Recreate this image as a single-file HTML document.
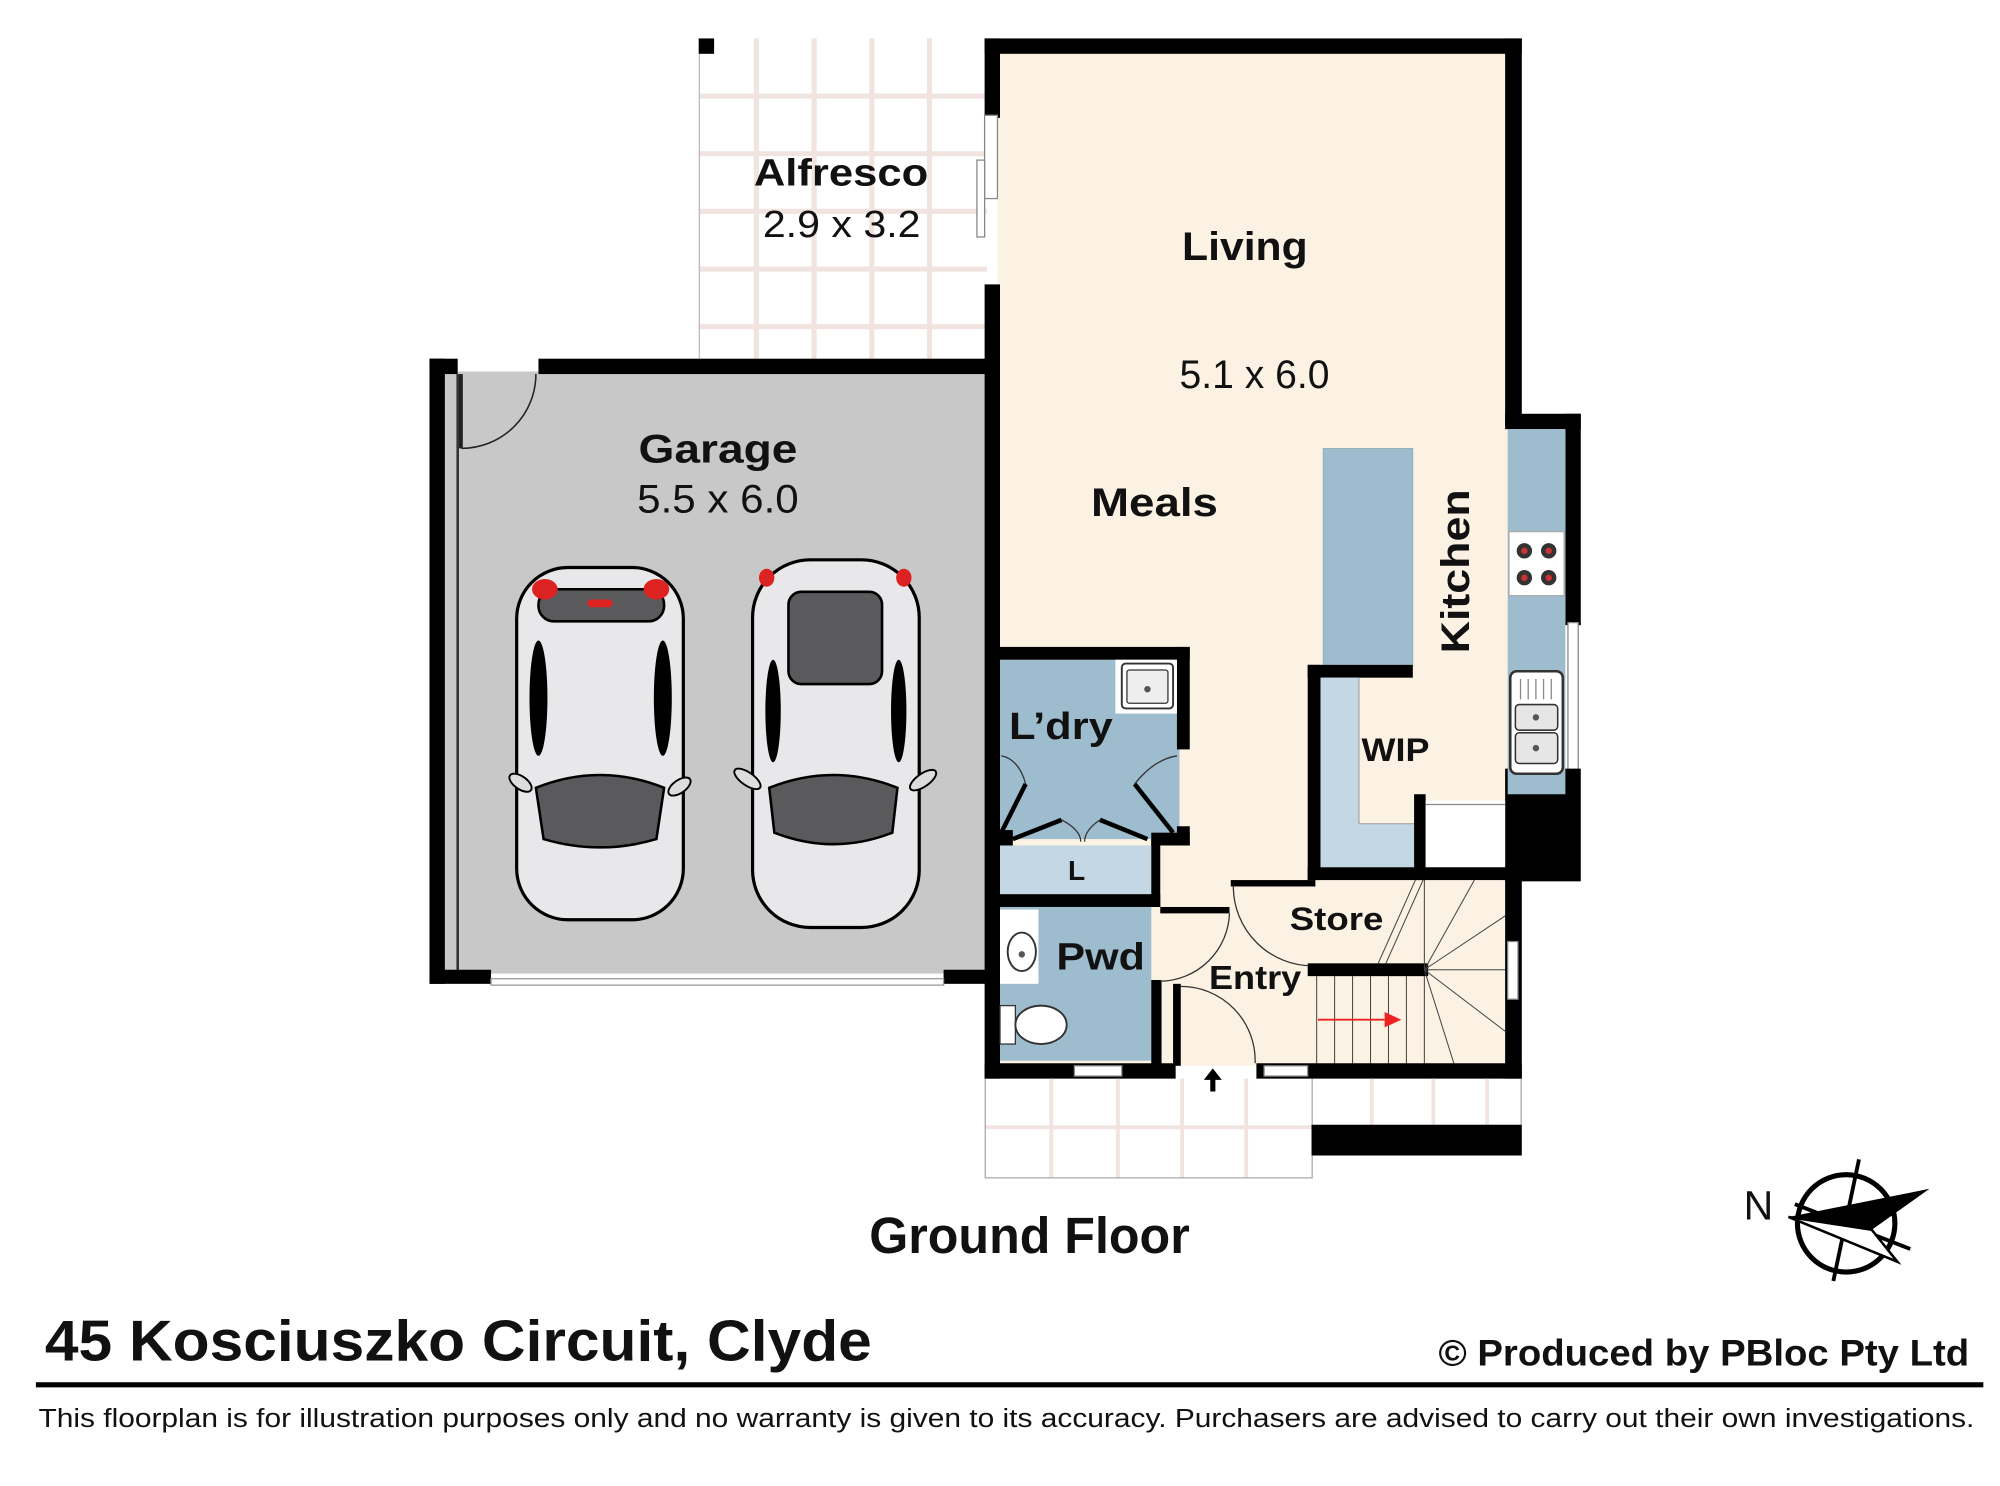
<!DOCTYPE html>
<html><head><meta charset="utf-8"><style>
html,body{margin:0;padding:0;background:#fff;}
svg{display:block;}
text{font-family:"Liberation Sans",sans-serif;fill:#111;}
.b{font-weight:bold;}
</style></head><body>
<svg width="2000" height="1486" viewBox="0 0 1560 1160" preserveAspectRatio="none" xmlns="http://www.w3.org/2000/svg">
<rect width="1560" height="1160" fill="#fff"/>
<rect x="545" y="30" width="225" height="250" fill="#fff"/>
<g stroke="#f1e4e0" stroke-width="4">
<line x1="590" y1="30" x2="590" y2="280"/><line x1="635" y1="30" x2="635" y2="280"/><line x1="680" y1="30" x2="680" y2="280"/><line x1="725" y1="30" x2="725" y2="280"/>
<line x1="545" y1="75" x2="770" y2="75"/><line x1="545" y1="120" x2="770" y2="120"/><line x1="545" y1="165" x2="770" y2="165"/><line x1="545" y1="210" x2="770" y2="210"/><line x1="545" y1="255" x2="770" y2="255"/>
</g>
<line x1="545.5" y1="30" x2="545.5" y2="280" stroke="#bbb" stroke-width="1"/>
<rect x="545" y="30" width="12" height="12" fill="#000"/>
<rect x="778" y="40" width="398" height="792" fill="#fbf2e3"/>
<rect x="345" y="290" width="430" height="470" fill="#c8c8c8"/>
<rect x="335" y="280" width="12" height="488" fill="#000"/>
<rect x="335" y="280" width="22" height="12" fill="#000"/>
<rect x="356" y="292" width="2" height="466" fill="#333"/>
<rect x="420" y="280" width="358" height="12" fill="#000"/>
<rect x="335" y="757" width="48" height="11" fill="#000"/>
<rect x="736" y="757" width="44" height="11" fill="#000"/>
<rect x="383" y="764" width="353" height="5" fill="#fff" stroke="#999" stroke-width="1"/>
<path d="M360 350 A58 58 0 0 0 418 292" fill="none" stroke="#222" stroke-width="1.2"/>
<rect x="358" y="292" width="3" height="58" fill="#222"/>
<rect x="768" y="30" width="419" height="12" fill="#000"/>
<rect x="1174" y="30" width="13" height="302" fill="#000"/>
<rect x="768" y="30" width="12" height="62" fill="#000"/>
<rect x="768" y="90" width="10" height="65" fill="#fff" stroke="#888" stroke-width="1"/>
<rect x="762" y="125" width="6" height="60" fill="#fff" stroke="#888" stroke-width="1"/>
<rect x="768" y="222" width="12" height="620" fill="#000"/>
<rect x="1174" y="323" width="59" height="12" fill="#000"/>
<rect x="1221" y="323" width="12" height="165" fill="#000"/>
<rect x="1223" y="486" width="8" height="115" fill="#fff" stroke="#888" stroke-width="1"/>
<rect x="1174" y="600" width="59" height="88" fill="#000"/>
<rect x="1176" y="335" width="45" height="285" fill="#9dbccd"/>
<rect x="1177" y="415" width="43" height="50" fill="#fff" stroke="#aaa" stroke-width="1"/>
<g fill="#333"><circle cx="1189" cy="430" r="6"/><circle cx="1208" cy="430" r="6"/><circle cx="1189" cy="451" r="6"/><circle cx="1208" cy="451" r="6"/></g>
<g fill="#c33"><circle cx="1189" cy="430" r="2.5"/><circle cx="1208" cy="430" r="2.5"/><circle cx="1189" cy="451" r="2.5"/><circle cx="1208" cy="451" r="2.5"/></g>
<rect x="1178" y="524" width="41" height="80" rx="5" fill="#fff" stroke="#333" stroke-width="2"/>
<rect x="1182" y="550" width="33" height="20" rx="3" fill="#e6e6e6" stroke="#333" stroke-width="1.2"/>
<rect x="1182" y="572" width="33" height="24" rx="3" fill="#e6e6e6" stroke="#333" stroke-width="1.2"/>
<circle cx="1198" cy="560" r="2.5" fill="#555"/><circle cx="1198" cy="584" r="2.5" fill="#555"/>
<g stroke="#888" stroke-width="1"><line x1="1186" y1="530" x2="1186" y2="546"/><line x1="1192" y1="530" x2="1192" y2="546"/><line x1="1198" y1="530" x2="1198" y2="546"/><line x1="1204" y1="530" x2="1204" y2="546"/><line x1="1210" y1="530" x2="1210" y2="546"/></g>
<rect x="1032" y="350" width="70" height="170" fill="#9dbccd" stroke="#8aa" stroke-width="0.5"/>
<rect x="1020" y="519" width="82" height="10" fill="#000"/>
<rect x="1020" y="519" width="10" height="168" fill="#000"/>
<rect x="1030" y="529" width="30" height="148" fill="#c3d8e4"/>
<rect x="1030" y="643" width="73" height="34" fill="#c3d8e4"/>
<line x1="1060" y1="529" x2="1060" y2="643" stroke="#999" stroke-width="0.8"/>
<line x1="1060" y1="643" x2="1103" y2="643" stroke="#999" stroke-width="0.8"/>
<rect x="1103" y="620" width="9" height="67" fill="#000"/>
<rect x="1112" y="625" width="62" height="52" fill="#fff"/>
<line x1="1112" y1="628" x2="1174" y2="628" stroke="#888" stroke-width="1"/>
<rect x="1020" y="677" width="167" height="10" fill="#000"/>
<rect x="780" y="515" width="140" height="140" fill="#9dbccd"/>
<rect x="772" y="505" width="156" height="10" fill="#000"/>
<rect x="918" y="505" width="10" height="80" fill="#000"/>
<rect x="918" y="645" width="10" height="15" fill="#000"/>
<rect x="898" y="650" width="30" height="10" fill="#000"/>
<rect x="780" y="648" width="10" height="12" fill="#000"/>
<rect x="870" y="515" width="48" height="42" fill="#fff"/>
<rect x="875" y="518" width="40" height="35" rx="3" fill="#fff" stroke="#333" stroke-width="1.5"/>
<rect x="879" y="523" width="32" height="26" rx="2" fill="#eee" stroke="#333" stroke-width="1"/>
<circle cx="895" cy="538" r="2.5" fill="#555"/>
<g stroke="#000" stroke-width="3.5" fill="none">
<line x1="800" y1="612" x2="781" y2="650"/><line x1="885" y1="612" x2="915" y2="650"/>
<line x1="790" y1="655" x2="828" y2="640"/><line x1="895" y1="655" x2="858" y2="640"/>
</g>
<g stroke="#333" stroke-width="1" fill="none">
<path d="M781 590 Q795 593 800 612"/><path d="M918 590 Q900 593 885 612"/>
<path d="M828 640 Q843 648 843 657"/><path d="M858 640 Q846 648 846 657"/>
</g>
<rect x="780" y="660" width="118" height="38" fill="#c3d8e4"/>
<rect x="772" y="698" width="133" height="10" fill="#000"/>
<rect x="898" y="655" width="7" height="53" fill="#000"/>
<rect x="780" y="708" width="118" height="120" fill="#9dbccd"/>
<rect x="780" y="710" width="30" height="58" fill="#fff"/>
<ellipse cx="797" cy="743" rx="11" ry="15" fill="#fff" stroke="#333" stroke-width="1.5"/>
<circle cx="797" cy="745" r="2.5" fill="#555"/>
<rect x="780" y="785" width="12" height="30" fill="#fff" stroke="#333" stroke-width="1"/>
<ellipse cx="812" cy="800" rx="20" ry="15" fill="#fff" stroke="#333" stroke-width="1.5"/>
<rect x="898" y="765" width="8" height="67" fill="#000"/>
<rect x="905" y="708" width="54" height="5" fill="#000"/>
<path d="M959 713 A55 55 0 0 1 905 766" fill="none" stroke="#333" stroke-width="1"/>
<rect x="915" y="768" width="6" height="64" fill="#000"/>
<path d="M921 770 A58 58 0 0 1 979 830" fill="none" stroke="#333" stroke-width="1"/>
<rect x="960" y="687" width="66" height="5" fill="#000"/>
<path d="M962 692 A62 62 0 0 0 1024 754" fill="none" stroke="#333" stroke-width="1"/>
<rect x="1020" y="752" width="94" height="10" fill="#000"/>
<g stroke="#444" stroke-width="0.8" fill="none">
<line x1="1027" y1="762" x2="1027" y2="830"/><line x1="1041" y1="762" x2="1041" y2="830"/><line x1="1055" y1="762" x2="1055" y2="830"/><line x1="1069" y1="762" x2="1069" y2="830"/><line x1="1083" y1="762" x2="1083" y2="830"/><line x1="1097" y1="762" x2="1097" y2="830"/><line x1="1111" y1="762" x2="1111" y2="830"/>
<line x1="1111" y1="757" x2="1134" y2="830"/><line x1="1111" y1="757" x2="1174" y2="805"/><line x1="1111" y1="757" x2="1174" y2="757"/><line x1="1111" y1="757" x2="1174" y2="715"/><line x1="1111" y1="757" x2="1150" y2="687"/><line x1="1111" y1="757" x2="1111" y2="687"/>
<line x1="1075" y1="752" x2="1104" y2="687"/><line x1="1081" y1="752" x2="1110" y2="687"/>
</g>
<line x1="1028" y1="796" x2="1080" y2="796" stroke="#e22" stroke-width="1.5"/>
<polygon points="1080,790 1093,796 1080,802" fill="#e22"/>
<rect x="1174" y="687" width="13" height="155" fill="#000"/>
<rect x="1176" y="735" width="8" height="45" fill="#fff" stroke="#888" stroke-width="1"/>
<rect x="768" y="830" width="149" height="12" fill="#000"/>
<rect x="838" y="832" width="37" height="8" fill="#fff" stroke="#888" stroke-width="1"/>
<rect x="980" y="830" width="207" height="12" fill="#000"/>
<rect x="986" y="832" width="34" height="8" fill="#fff" stroke="#888" stroke-width="1"/>
<g stroke="#f1e4e0" stroke-width="3">
<line x1="820" y1="842" x2="820" y2="920"/><line x1="872" y1="842" x2="872" y2="920"/><line x1="922" y1="842" x2="922" y2="920"/><line x1="972" y1="842" x2="972" y2="920"/>
<line x1="1070" y1="842" x2="1070" y2="878"/><line x1="1118" y1="842" x2="1118" y2="878"/><line x1="1160" y1="842" x2="1160" y2="878"/>
<line x1="768" y1="880" x2="1023" y2="880"/>
</g>
<path d="M768.5 842 V919.5 H1023.5 V842" fill="none" stroke="#aaa" stroke-width="1"/>
<line x1="1186.5" y1="842" x2="1186.5" y2="878" stroke="#aaa" stroke-width="1"/>
<rect x="1023" y="878" width="164" height="24" fill="#000"/>
<polygon points="946,834 939,843 944,843 944,852 948,852 948,843 953,843" fill="#000"/>
<g stroke="#000" stroke-width="2.5">
<rect x="403" y="443" width="130" height="275" rx="40" fill="#e8e8ea"/>
<rect x="587" y="437" width="130" height="287" rx="45" fill="#e8e8ea"/>
</g>
<g fill="#5a5a5c" stroke="#000" stroke-width="2">
<rect x="420" y="460" width="98" height="25" rx="12"/>
<path d="M418 615 Q468 595 518 615 L512 655 Q468 668 424 655 Z"/>
<rect x="615" y="462" width="73" height="72" rx="10"/>
<path d="M600 615 Q650 595 700 615 L696 650 Q650 668 604 650 Z"/>
</g>
<g fill="#000"><ellipse cx="420" cy="545" rx="7" ry="45"/><ellipse cx="517" cy="545" rx="7" ry="45"/><ellipse cx="603" cy="555" rx="6" ry="40"/><ellipse cx="701" cy="555" rx="6" ry="40"/></g>
<g fill="#d22"><ellipse cx="425" cy="460" rx="10" ry="8"/><ellipse cx="512" cy="460" rx="10" ry="8"/><rect x="458" y="468" width="20" height="6" rx="3"/><ellipse cx="598" cy="451" rx="6" ry="7"/><ellipse cx="705" cy="451" rx="6" ry="7"/></g>
<g fill="#ddd" stroke="#000" stroke-width="1.5"><ellipse cx="406" cy="611" rx="10" ry="5" transform="rotate(35 406 611)"/><ellipse cx="530" cy="614" rx="10" ry="5" transform="rotate(-35 530 614)"/><ellipse cx="583" cy="608" rx="12" ry="5" transform="rotate(35 583 608)"/><ellipse cx="720" cy="609" rx="12" ry="5" transform="rotate(-35 720 609)"/></g>
<text class="b" x="588" y="145" font-size="30" textLength="136" lengthAdjust="spacingAndGlyphs">Alfresco</text>
<text x="595" y="185" font-size="30" textLength="123" lengthAdjust="spacingAndGlyphs">2.9 x 3.2</text>
<text class="b" x="922" y="203" font-size="31" textLength="98" lengthAdjust="spacingAndGlyphs">Living</text>
<text x="920" y="303" font-size="31" textLength="117" lengthAdjust="spacingAndGlyphs">5.1 x 6.0</text>
<text class="b" x="851" y="403" font-size="31" textLength="99" lengthAdjust="spacingAndGlyphs">Meals</text>
<text class="b" x="498" y="361" font-size="31" textLength="124" lengthAdjust="spacingAndGlyphs">Garage</text>
<text x="497" y="400" font-size="31" textLength="126" lengthAdjust="spacingAndGlyphs">5.5 x 6.0</text>
<text class="b" transform="translate(1146 510) rotate(-90)" font-size="31" textLength="128" lengthAdjust="spacingAndGlyphs">Kitchen</text>
<text class="b" x="787" y="577" font-size="30" textLength="81" lengthAdjust="spacingAndGlyphs">L’dry</text>
<text class="b" x="1062" y="594" font-size="25" textLength="53" lengthAdjust="spacingAndGlyphs">WIP</text>
<text class="b" x="833" y="687" font-size="22">L</text>
<text class="b" x="1006" y="726" font-size="25" textLength="73" lengthAdjust="spacingAndGlyphs">Store</text>
<text class="b" x="824" y="757" font-size="30" textLength="69" lengthAdjust="spacingAndGlyphs">Pwd</text>
<text class="b" x="943" y="772" font-size="26" textLength="72" lengthAdjust="spacingAndGlyphs">Entry</text>
<text class="b" x="678" y="978" font-size="40" textLength="250" lengthAdjust="spacingAndGlyphs">Ground Floor</text>
<text x="1360" y="952" font-size="32">N</text>
<g stroke="#000" fill="none" stroke-width="4"><circle cx="1440" cy="955" r="38"/></g>
<g stroke="#000" stroke-width="3"><line x1="1450" y1="905" x2="1430" y2="1000"/><line x1="1400" y1="940" x2="1490" y2="975"/></g>
<polygon points="1395,950 1505,928 1460,960" fill="#000"/>
<polygon points="1395,950 1460,960 1480,985" fill="#fff" stroke="#000" stroke-width="2"/>
<text class="b" x="35" y="1062" font-size="45" textLength="645" lengthAdjust="spacingAndGlyphs">45 Kosciuszko Circuit, Clyde</text>
<text class="b" x="1122" y="1066" font-size="29" textLength="414" lengthAdjust="spacingAndGlyphs">© Produced by PBloc Pty Ltd</text>
<rect x="28" y="1079" width="1519" height="4" fill="#000"/>
<text x="30" y="1114" font-size="20" textLength="1510" lengthAdjust="spacingAndGlyphs">This floorplan is for illustration purposes only and no warranty is given to its accuracy. Purchasers are advised to carry out their own investigations.</text>
</svg>
</body></html>
